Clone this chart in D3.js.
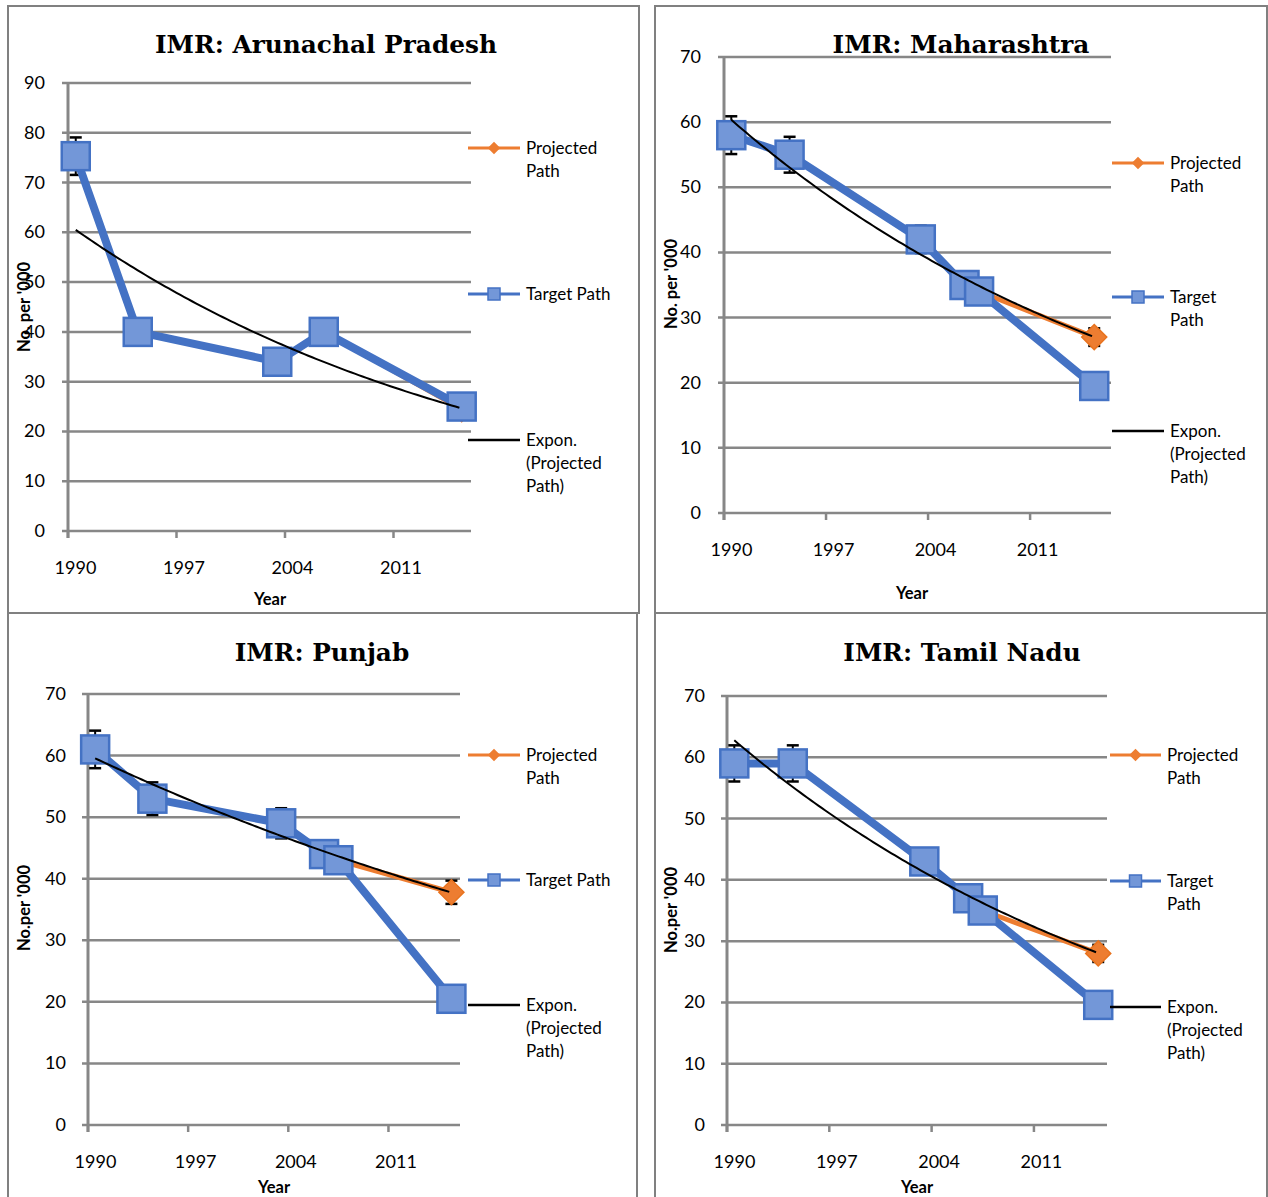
<!DOCTYPE html>
<html><head><meta charset="utf-8">
<script src="https://cdn.jsdelivr.net/npm/d3@7"></script>
<style>
html,body{margin:0;padding:0;background:#fff;}
svg{display:block;}
.tick-label{font-family:Lato,"Open Sans",sans-serif;font-size:18px;fill:#000;}
.title{font-family:"DejaVu Serif",serif;font-weight:bold;font-size:24.8px;fill:#000;}
.axis-title{font-family:Lato,"Open Sans",sans-serif;font-weight:bold;font-size:16.5px;fill:#000;}
.legend-text{font-family:Lato,"Open Sans",sans-serif;font-size:17px;fill:#000;}
</style>
</head><body>
<svg id="chart" width="1268" height="1197"></svg>
<script>
// ---------------- DATA ----------------
const xTickLabels = [1990, 1997, 2004, 2011];

const titles = ["IMR: Arunachal Pradesh", "IMR: Maharashtra", "IMR: Punjab", "IMR: Tamil Nadu"];
const yTitles = ["No. per '000", "No. per '000", "No.per '000", "No.per '000"];

const yTicksAP = [0, 10, 20, 30, 40, 50, 60, 70, 80, 90];
const yTicks70 = [0, 10, 20, 30, 40, 50, 60, 70];

// Arunachal Pradesh
const yearsAP = [1990.5, 1994.5, 2003.5, 2006.5, 2015.4];
const targetAP = [75.3, 40, 34, 40, 25];
const projectedAP = [75.3, 40, 34, 40, 24.5];

// Maharashtra
const yearsMH = [1990.5, 1994.5, 2003.5, 2006.5, 2007.5, 2015.4];
const targetMH = [58, 55, 42, 35, 34, 19.5];
const projectedMH = [58, 55, 42, 35, 34, 27];

// Punjab
const yearsPB = [1990.5, 1994.5, 2003.5, 2006.5, 2007.5, 2015.4];
const targetPB = [61, 53, 49, 44, 43, 20.5];
const projectedPB = [61, 53, 49, 44, 43, 37.8];

// Tamil Nadu
const yearsTN = [1990.5, 1994.5, 2003.5, 2006.5, 2007.5, 2015.4];
const targetTN = [59, 59, 43, 37, 35, 19.6];
const projectedTN = [59, 59, 43, 37, 35, 28];

const errorPct = 0.05;

const legendLabels = [
  [["Projected", "Path"], ["Target Path"], ["Expon.", "(Projected", "Path)"]],
  [["Projected", "Path"], ["Target", "Path"], ["Expon.", "(Projected", "Path)"]],
  [["Projected", "Path"], ["Target Path"], ["Expon.", "(Projected", "Path)"]],
  [["Projected", "Path"], ["Target", "Path"], ["Expon.", "(Projected", "Path)"]]
];

// ---------------- LAYOUT ----------------
const layouts = [
  {box:[8,6,639,613], plot:{l:68,r:471,t:83,b:531}, xMax:2016, yMax:90, yTicks:yTicksAP,
   title:[326,53], ylabR:45, xlabY:574, xTitle:[270,605], yTitle:[25,307],
   leg:{x1:468,x2:520,tx:526,ys:[148,294,440]}},
  {box:[655,6,1267,613], plot:{l:724,r:1111,t:57,b:513}, xMax:2016.55, yMax:70, yTicks:yTicks70,
   title:[961,53], ylabR:701, xlabY:556, xTitle:[912,599], yTitle:[672,284],
   leg:{x1:1112,x2:1164,tx:1170,ys:[163,297,431]}},
  {box:[8,613,637,1210], plot:{l:88,r:460,t:694,b:1125}, xMax:2016, yMax:70, yTicks:yTicks70,
   title:[322,661], ylabR:66, xlabY:1168, xTitle:[274,1193], yTitle:[25,908],
   leg:{x1:468,x2:520,tx:526,ys:[755,880,1005]}},
  {box:[655,613,1267,1210], plot:{l:727,r:1107,t:696,b:1125}, xMax:2016, yMax:70, yTicks:yTicks70,
   title:[962,661], ylabR:705, xlabY:1168, xTitle:[917,1193], yTitle:[672,910],
   leg:{x1:1110,x2:1161,tx:1167,ys:[755,881,1007]}}
];

const seriesSets = [
  {years:yearsAP, target:targetAP, projected:projectedAP},
  {years:yearsMH, target:targetMH, projected:projectedMH},
  {years:yearsPB, target:targetPB, projected:projectedPB},
  {years:yearsTN, target:targetTN, projected:projectedTN}
];

const BLUE = "#4472C4", BLUE_FILL = "#7397D8", ORANGE = "#ED7D31", GRID = "#878787";

const svg = d3.select("#chart");

// exponential least squares fit (like a spreadsheet trendline)
function expFit(xs, ys) {
  const ly = ys.map(Math.log);
  const mx = d3.mean(xs), my = d3.mean(ly);
  let sxy = 0, sxx = 0;
  xs.forEach((x, i) => { sxy += (x - mx) * (ly[i] - my); sxx += (x - mx) * (x - mx); });
  const b = sxy / sxx, a = my - b * mx;
  return x => Math.exp(a + b * x);
}

layouts.forEach((L, i) => {
  const S = seriesSets[i];
  const g = svg.append("g");
  const x = d3.scaleLinear().domain([1990, L.xMax]).range([L.plot.l, L.plot.r]);
  const y = d3.scaleLinear().domain([0, L.yMax]).range([L.plot.b, L.plot.t]);

  // panel border
  g.append("rect").attr("x", L.box[0]).attr("y", L.box[1])
    .attr("width", L.box[2] - L.box[0]).attr("height", L.box[3] - L.box[1])
    .attr("fill", "none").attr("stroke", "#808080").attr("stroke-width", 2);

  // gridlines + y tick labels
  g.selectAll(".grid").data(L.yTicks).enter().append("line")
    .attr("x1", L.plot.l - 6).attr("x2", L.plot.r)
    .attr("y1", d => y(d)).attr("y2", d => y(d))
    .attr("stroke", GRID).attr("stroke-width", 2.5);
  g.selectAll(".ylab").data(L.yTicks).enter().append("text")
    .attr("class", "tick-label").attr("text-anchor", "end")
    .attr("x", L.ylabR).attr("y", d => y(d) + 6).text(d => d);

  // x axis ticks
  g.selectAll(".xtick").data(xTickLabels).enter().append("line")
    .attr("x1", d => x(d)).attr("x2", d => x(d))
    .attr("y1", L.plot.b).attr("y2", L.plot.b + 7)
    .attr("stroke", GRID).attr("stroke-width", 2.5);
  g.selectAll(".xlab").data(xTickLabels).enter().append("text")
    .attr("class", "tick-label").attr("text-anchor", "middle")
    .attr("x", d => x(d) + 7.5).attr("y", L.xlabY).text(d => d);

  // y axis line
  g.append("line").attr("x1", x(1990)).attr("x2", x(1990))
    .attr("y1", L.plot.t).attr("y2", L.plot.b + 7)
    .attr("stroke", GRID).attr("stroke-width", 3);

  // titles
  g.append("text").attr("class", "title").attr("text-anchor", "middle")
    .attr("x", L.title[0]).attr("y", L.title[1]).text(titles[i]);
  g.append("text").attr("class", "axis-title").attr("text-anchor", "middle")
    .attr("x", L.xTitle[0]).attr("y", L.xTitle[1]).text("Year");
  g.append("text").attr("class", "axis-title").attr("text-anchor", "middle")
    .attr("transform", `translate(${L.yTitle[0] + 5},${L.yTitle[1]}) rotate(-90)`).text(yTitles[i]);

  const line = d3.line().x(d => x(d[0])).y(d => y(d[1]));
  const proj = S.years.map((yr, k) => [yr, S.projected[k]]);
  const targ = S.years.map((yr, k) => [yr, S.target[k]]);

  // projected path (orange)
  g.append("path").attr("d", line(proj)).attr("fill", "none")
    .attr("stroke", ORANGE).attr("stroke-width", 5).attr("stroke-linejoin", "round");

  // error bars (5%) - drawn behind markers
  const eb = g.selectAll(".eb").data(proj).enter().append("g");
  eb.append("line").attr("x1", d => x(d[0])).attr("x2", d => x(d[0]))
    .attr("y1", d => y(d[1] * (1 + errorPct))).attr("y2", d => y(d[1] * (1 - errorPct)))
    .attr("stroke", "#000").attr("stroke-width", 2);
  [1 + errorPct, 1 - errorPct].forEach(f => {
    eb.append("line").attr("x1", d => x(d[0]) - 6).attr("x2", d => x(d[0]) + 6)
      .attr("y1", d => y(d[1] * f)).attr("y2", d => y(d[1] * f))
      .attr("stroke", "#000").attr("stroke-width", 2.5);
  });

  const diamond = d3.symbol().type(d3.symbolDiamond2).size(400);
  g.selectAll(".pm").data(proj).enter().append("path")
    .attr("d", diamond).attr("transform", d => `translate(${x(d[0])},${y(d[1])})`)
    .attr("fill", ORANGE).attr("stroke", "#E8731F").attr("stroke-width", 1.5);

  // target path (blue)
  g.append("path").attr("d", line(targ)).attr("fill", "none")
    .attr("stroke", BLUE).attr("stroke-width", 8).attr("stroke-linejoin", "round");
  g.selectAll(".tm").data(targ).enter().append("rect")
    .attr("x", d => x(d[0]) - 14).attr("y", d => y(d[1]) - 14)
    .attr("width", 28).attr("height", 28)
    .attr("fill", BLUE_FILL).attr("stroke", BLUE).attr("stroke-width", 2.5);

  // exponential trendline of projected path
  const f = expFit(S.years, S.projected);
  const xs = d3.range(S.years[0], S.years[S.years.length - 1] + 0.001, 0.25);
  g.append("path").attr("d", line(xs.map(v => [v, f(v)]))).attr("fill", "none")
    .attr("stroke", "#000").attr("stroke-width", 2);

  // legend
  const Lg = L.leg;
  const labs = legendLabels[i];
  g.append("line").attr("x1", Lg.x1).attr("x2", Lg.x2).attr("y1", Lg.ys[0]).attr("y2", Lg.ys[0])
    .attr("stroke", ORANGE).attr("stroke-width", 3);
  g.append("path").attr("d", d3.symbol().type(d3.symbolDiamond2).size(100))
    .attr("transform", `translate(${(Lg.x1 + Lg.x2) / 2},${Lg.ys[0]})`).attr("fill", ORANGE);
  g.append("line").attr("x1", Lg.x1).attr("x2", Lg.x2).attr("y1", Lg.ys[1]).attr("y2", Lg.ys[1])
    .attr("stroke", BLUE).attr("stroke-width", 3);
  g.append("rect").attr("x", (Lg.x1 + Lg.x2) / 2 - 6).attr("y", Lg.ys[1] - 6)
    .attr("width", 12).attr("height", 12).attr("fill", BLUE_FILL).attr("stroke", BLUE).attr("stroke-width", 1.5);
  g.append("line").attr("x1", Lg.x1).attr("x2", Lg.x2).attr("y1", Lg.ys[2]).attr("y2", Lg.ys[2])
    .attr("stroke", "#000").attr("stroke-width", 2.5);
  labs.forEach((lines, k) => {
    const t = g.append("text").attr("class", "legend-text").attr("x", Lg.tx).attr("y", Lg.ys[k] + 6);
    lines.forEach((s, j) => {
      t.append("tspan").attr("x", Lg.tx).attr("dy", j === 0 ? 0 : 23).text(s);
    });
  });
});
</script>
</body></html>
